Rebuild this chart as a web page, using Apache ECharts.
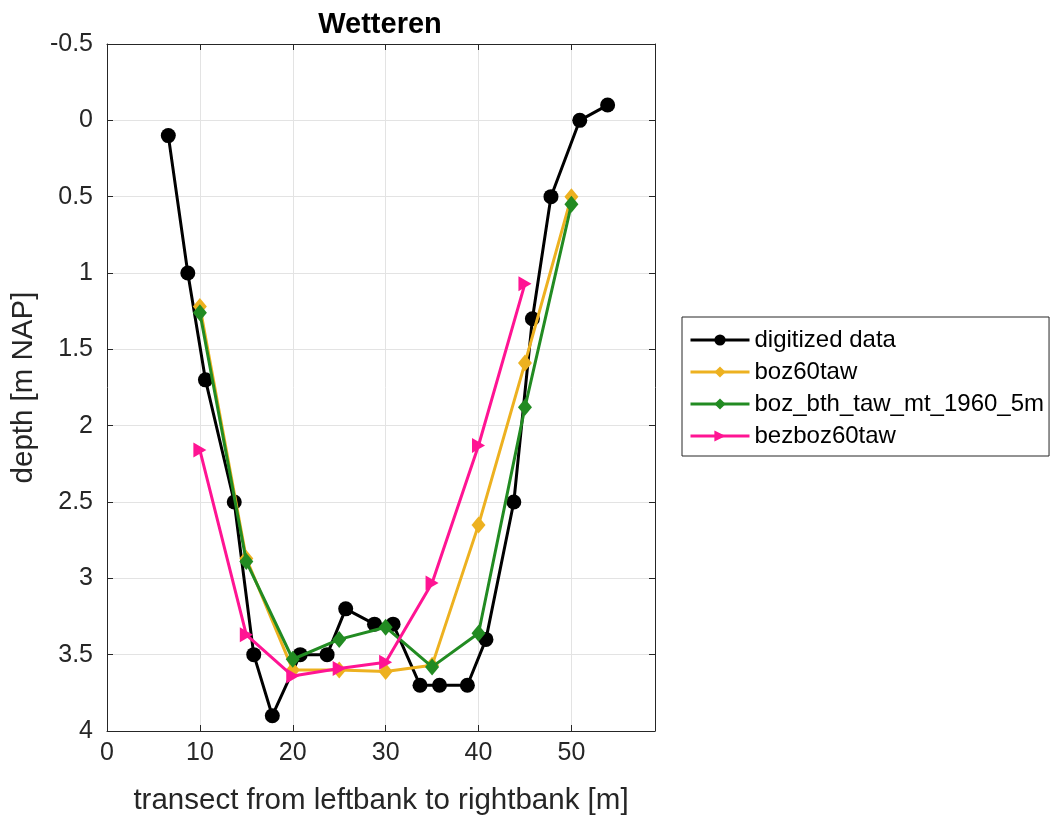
<!DOCTYPE html>
<html>
<head>
<meta charset="utf-8">
<script src="https://cdn.jsdelivr.net/npm/echarts@6/dist/echarts.min.js"></script>
<style>
  html, body { margin: 0; padding: 0; background: #fff; }
  #chart { width: 1053px; height: 816px; }
</style>
</head>
<body>
<div id="chart"></div>
<script>
var digX = [6.6, 8.7, 10.6, 13.7, 15.8, 17.8, 20.8, 23.7, 25.7, 28.8, 30.8, 33.7, 35.8, 38.8, 40.8, 43.8, 45.8, 47.8, 50.9, 53.9];
var digY = [0.1, 1.0, 1.7, 2.5, 3.5, 3.9, 3.5, 3.5, 3.2, 3.3, 3.3, 3.7, 3.7, 3.7, 3.4, 2.5, 1.3, 0.5, 0.0, -0.1];

// model profiles
var modelX = [10, 15, 20, 25, 30, 35, 40, 45, 50];
var boz60taw = [1.22, 2.87, 3.6, 3.6, 3.61, 3.57, 2.65, 1.59, 0.5];
var bozBth = [1.26, 2.89, 3.53, 3.4, 3.32, 3.58, 3.36, 1.88, 0.55];
var bezX = [10, 15, 20, 25, 30, 35, 40, 45];
var bezboz60taw = [2.16, 3.37, 3.64, 3.59, 3.55, 3.03, 2.13, 1.07];

var names = ['digitized data', 'boz60taw', 'boz_bth_taw_mt_1960_5m', 'bezboz60taw'];
var colors = ['#000000', '#EDB120', '#228B22', '#FF1493'];

function zip(xs, ys) {
  return xs.map(function (x, i) { return [x, ys[i]]; });
}

var font = 'Liberation Sans, Arial, Helvetica, sans-serif';
var axisColor = '#262626';
var gridColor = '#e3e3e3';

var chart = echarts.init(document.getElementById('chart'));

function lineSeries(idx, data, symbol, size) {
  return {
    name: names[idx],
    type: 'line',
    data: data,
    symbol: symbol,
    symbolSize: size,
    showSymbol: true,
    lineStyle: { color: colors[idx], width: 3 },
    itemStyle: { color: colors[idx], borderWidth: 0 },
    emphasis: { disabled: true },
    z: 2 + idx
  };
}

chart.setOption({
  animation: false,
  textStyle: { fontFamily: font },
  title: {
    text: 'Wetteren',
    left: 375,
    top: 5,
    textAlign: 'center',
    textStyle: { fontSize: 29, fontWeight: 'bold', color: '#000', fontFamily: font }
  },
  grid: { left: 107, right: 398, top: 44, bottom: 85, containLabel: false, outerBoundsMode: 'none' },
  legend: {
    orient: 'vertical',
    left: 682,
    top: 317,
    padding: [11, 5, 8, 7],
    itemGap: 8,
    itemWidth: 59,
    itemHeight: 14,
    borderColor: '#262626',
    borderWidth: 1,
    backgroundColor: '#fff',
    lineStyle: { width: 3 },
    textStyle: { fontSize: 24, color: '#000', fontFamily: font, lineHeight: 24 },
    data: names
  },
  xAxis: [{
    type: 'value',
    min: 0, max: 59, interval: 10,
    position: 'bottom',
    name: 'transect from leftbank to rightbank [m]',
    nameLocation: 'middle',
    nameGap: 55,
    nameTextStyle: { fontSize: 29.5, color: axisColor, fontFamily: font },
    axisLine: { show: true, onZero: false, lineStyle: { color: axisColor, width: 1 } },
    axisTick: { show: true, inside: true, length: 6, lineStyle: { color: axisColor } },
    axisLabel: {
      fontSize: 25, color: axisColor, margin: 10, showMaxLabel: false,
      formatter: function (v) { return v % 10 === 0 ? String(v) : ''; }
    },
    splitLine: { show: true, lineStyle: { color: gridColor, width: 1 } }
  }, {
    type: 'value',
    min: 0, max: 59, interval: 10,
    position: 'top',
    axisLine: { show: true, onZero: false, lineStyle: { color: axisColor, width: 1 } },
    axisTick: { show: true, inside: true, length: 6, lineStyle: { color: axisColor } },
    axisLabel: { show: false },
    splitLine: { show: false }
  }],
  yAxis: [{
    type: 'value',
    inverse: true,
    min: -0.5, max: 4, interval: 0.5,
    position: 'left',
    name: 'depth [m NAP]',
    nameLocation: 'middle',
    nameGap: 68,
    nameTextStyle: { fontSize: 29.5, color: axisColor, fontFamily: font },
    axisLine: { show: true, onZero: false, lineStyle: { color: axisColor, width: 1 } },
    axisTick: { show: true, inside: true, length: 6, lineStyle: { color: axisColor } },
    axisLabel: { fontSize: 25, color: axisColor, margin: 14 },
    splitLine: { show: true, lineStyle: { color: gridColor, width: 1 } }
  }, {
    type: 'value',
    inverse: true,
    min: -0.5, max: 4, interval: 0.5,
    position: 'right',
    axisLine: { show: true, onZero: false, lineStyle: { color: axisColor, width: 1 } },
    axisTick: { show: true, inside: true, length: 6, lineStyle: { color: axisColor } },
    axisLabel: { show: false },
    splitLine: { show: false }
  }],
  series: [
    lineSeries(0, zip(digX, digY), 'circle', 15),
    lineSeries(1, zip(modelX, boz60taw), 'diamond', [14, 17]),
    lineSeries(2, zip(modelX, bozBth), 'diamond', [14, 17]),
    lineSeries(3, zip(bezX, bezboz60taw), 'path://M0,0 L10,5 L0,10 Z', [13, 15])
  ]
});
</script>
</body>
</html>
